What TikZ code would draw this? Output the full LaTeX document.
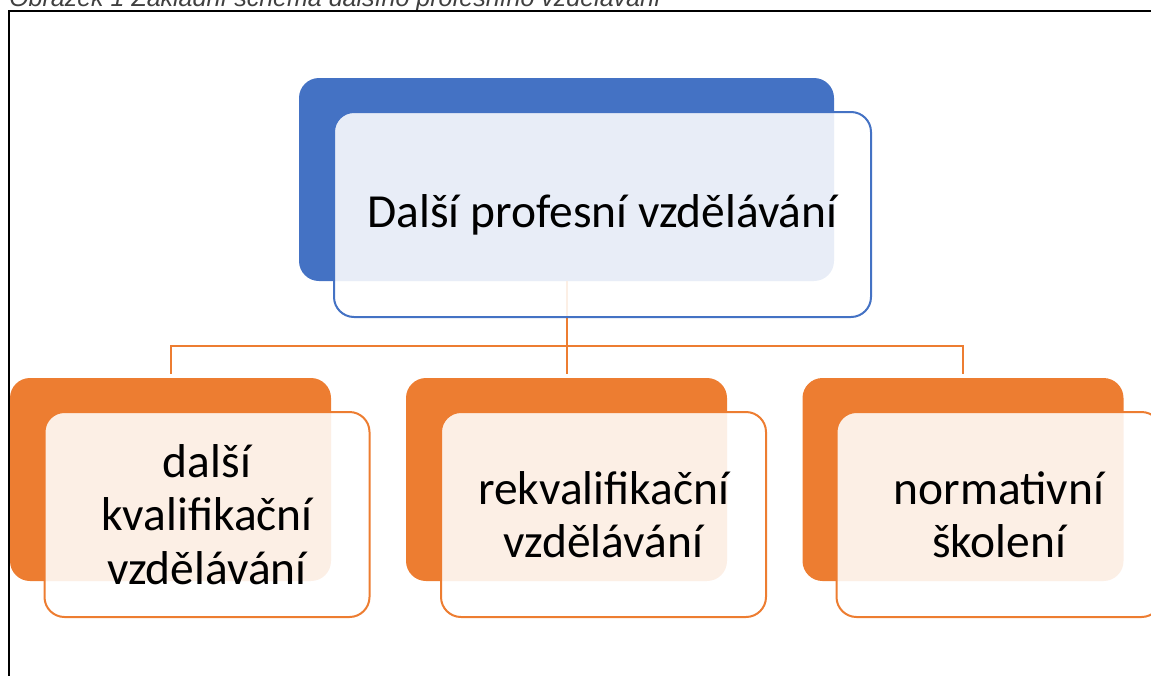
\documentclass[tikz,border=0pt]{standalone}
\usepackage{fontspec}
\usetikzlibrary{calc}
\setmainfont{Carlito}
\newfontfamily\capfont{Liberation Sans}
\definecolor{blueD}{HTML}{4472C4}
\definecolor{orangeD}{HTML}{ED7D31}
\definecolor{capcol}{HTML}{404040}
\begin{document}
\begin{tikzpicture}[x=0.75pt,y=-0.75pt,
  darkbox/.style={rounded corners=15pt, inner sep=0pt, minimum height=152.25pt},
  topdark/.style={darkbox, fill=blueD, minimum width=401.25pt},
  subdark/.style={darkbox, fill=orangeD, minimum width=240.75pt},
  frontbox/.style={rounded corners=15pt, draw, line width=1.5pt, fill=white,
     fill opacity=0.88, text opacity=1, draw opacity=1, inner sep=0pt,
     minimum height=153.75pt, align=center, text=black,
     font=\fontsize{35.6}{40}\selectfont},
  topfront/.style={frontbox, draw=blueD, minimum width=402.75pt},
  subfront/.style={frontbox, draw=orangeD, minimum width=243.75pt},
  conn/.style={draw=orangeD, line width=1.5pt},
  frame/.style={draw=black, line width=1.7pt}
]
\useasboundingbox (0,0) rectangle (1151,675);
\clip (0,0) rectangle (1151,675);
% caption (cut off at the top, as in the original)
\node[anchor=base west, inner sep=0pt, text=capcol,
      font=\capfont\itshape\fontsize{18.75}{22}\selectfont] (cap) at (9,6.5)
  {Obrázek 1 Základní schéma dalšího profesního vzdělávání};
% frame
\draw[frame] (9,690) -- (9,11) -- (1170,11);
% dark boxes
\node[topdark] (d0) at (566.5,179.5) {};
\node[subdark] (d1) at (170.5,479.5) {};
\node[subdark] (d2) at (566.5,479.5) {};
\node[subdark] (d3) at (963,479.5) {};
% connectors
\coordinate (bus) at ($(d0.south)+(0,65)$);
\draw[conn] (d0.south) -- (bus);
\draw[conn, shorten >=2.5pt] (bus) -| (d1.north);
\draw[conn, shorten >=2.5pt] (bus) -- (d2.north);
\draw[conn, shorten >=2.5pt] (bus) -| (d3.north);
% front boxes
\node[topfront] (f0) at (602.5,214.5) {Další profesní vzdělávání};
\node[subfront] (f1) at (207,514.5) {další\\kvalifikační\\vzdělávání};
\node[subfront] (f2) at (603.5,514.5) {rekvalifikační\\vzdělávání};
\node[subfront] (f3) at (999,514.5) {normativní\\školení};
\end{tikzpicture}
\end{document}
